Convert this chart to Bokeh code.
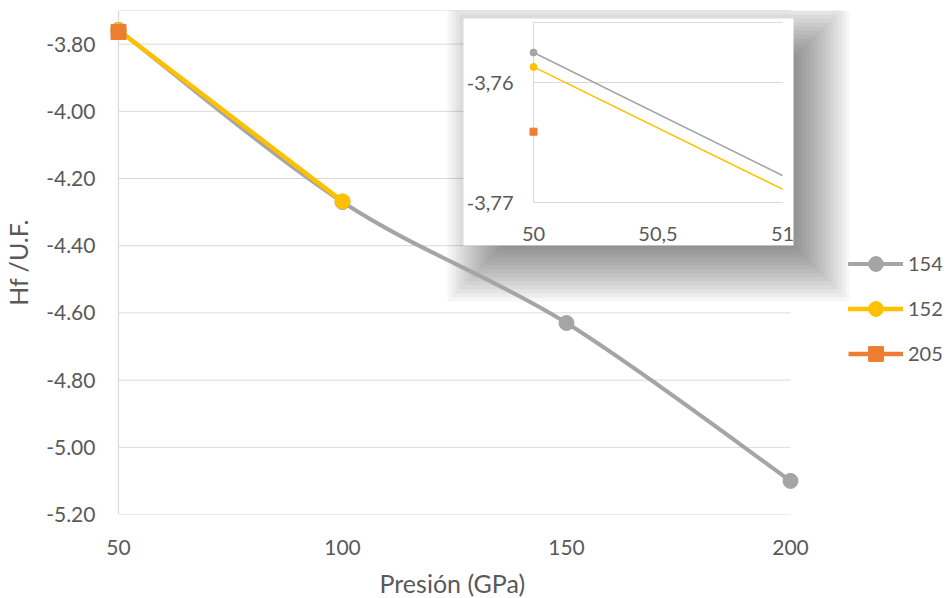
import numpy as np
from bokeh.plotting import figure
from bokeh.models import Range1d, FixedTicker, Legend, LegendItem, Title
from bokeh.embed import file_html
from bokeh.resources import INLINE
from bokeh.core.properties import value

# ---------------- data ----------------
pressure_154 = [50, 100, 150, 200]
hf_154 = [-3.7575, -4.27, -4.63, -5.10]
pressure_152 = [50, 100]
hf_152 = [-3.7587, -4.268]
pressure_205 = [50]
hf_205 = [-3.7641]
series_names = ["154", "152", "205"]

x_ticks = [50, 100, 150, 200]
y_ticks = [-5.2, -5.0, -4.8, -4.6, -4.4, -4.2, -4.0, -3.8]
y_top = -3.7
x_title = "Presión (GPa)"
y_title = "Hf /U.F."

inset_x_ticks = [50, 50.5, 51]
inset_x_labels = ["50", "50,5", "51"]
inset_y_ticks = [-3.77, -3.76]
inset_y_labels = ["-3,77", "-3,76"]
inset_y_top = -3.755

# ---------------- layout constants (pixels) ----------------
W, H = 946, 598
L, R, T, B = 106, 946, 10, 514        # plot frame
X50, X200 = 118, 790                   # pixels of first / last x tick
IX0, IX1 = 533, 782                    # inset: x=50 and x=51
IY_LO, IY_HI = 202, 82                 # inset: y=-3.77 and y=-3.76
BOX = (463, 18, 793, 245)              # inset picture box (l, t, r, b)
SHADOW = (483, 38, 813, 265)
LEGEND_X = 848

GRAY, YELLOW, ORANGE = "#A5A5A5", "#FFC000", "#ED7D31"
GRID = "#D9D9D9"
TXT = "#595959"
FONT = "Lato"

px_per_x = (X200 - X50) / (x_ticks[-1] - x_ticks[0])
x_start = x_ticks[0] - (X50 - L) / px_per_x
x_end = x_ticks[-1] + (R - X200) / px_per_x

p = figure(width=W, height=H, x_range=Range1d(x_start, x_end),
           y_range=Range1d(y_ticks[0], y_top),
           min_border_left=L, min_border_right=W - R,
           min_border_top=T, min_border_bottom=H - B,
           output_backend="svg", toolbar_location=None)
p.outline_line_color = None
p.xgrid.visible = False
p.ygrid.visible = False

# inset and pixel ranges
isx = (IX1 - IX0) / (inset_x_ticks[-1] - inset_x_ticks[0])
isy = (IY_LO - IY_HI) / (inset_y_ticks[1] - inset_y_ticks[0])
ix_start = inset_x_ticks[0] - (IX0 - L) / isx
ix_end = inset_x_ticks[0] + (R - IX0) / isx
iy_start = inset_y_ticks[0] + (IY_LO - B) / isy
iy_end = inset_y_ticks[0] + (IY_LO - T) / isy
p.extra_x_ranges = {"px": Range1d(L, R), "ix": Range1d(ix_start, ix_end)}
p.extra_y_ranges = {"py": Range1d(B, T), "iy": Range1d(iy_start, iy_end)}

# axes
p.xaxis.ticker = FixedTicker(ticks=x_ticks)
p.xaxis.bounds = (x_ticks[0], x_ticks[-1])
p.xaxis.axis_line_color = None
p.xaxis.major_label_standoff = 25
p.yaxis.ticker = FixedTicker(ticks=y_ticks)
p.yaxis.bounds = (y_ticks[0], y_top)
p.yaxis.major_label_overrides = {v: f"{v:.2f}" for v in y_ticks}
p.yaxis.axis_line_color = None
p.yaxis.major_label_standoff = 11
p.yaxis.axis_label = y_title
p.yaxis.axis_label_standoff = 10
for ax in (p.xaxis, p.yaxis):
    ax.major_tick_line_color = None
    ax.minor_tick_line_color = None
    ax.major_tick_out = 0
    ax.major_tick_in = 0
    ax.minor_tick_out = 0
    ax.major_label_text_font = FONT
    ax.major_label_text_font_size = "21px"
    ax.major_label_text_color = TXT
    ax.axis_label_text_font = FONT
    ax.axis_label_text_font_size = "25px"
    ax.axis_label_text_font_style = "normal"
    ax.axis_label_text_color = TXT

# x-axis title, centred under the x ticks (not under the wider frame)
p.add_layout(Title(text=x_title, align="left", offset=273, standoff=0,
                   padding=(0, 0, 8, 0),
                   text_font=FONT, text_font_size="25px", text_font_style="normal",
                   text_color=TXT), "below")

# gridlines (main) and vertical axis line
grid_vals = y_ticks + [y_top]
p.segment(x0=[x_ticks[0]] * len(grid_vals), x1=[x_ticks[-1]] * len(grid_vals),
          y0=grid_vals, y1=grid_vals, line_color=GRID, line_width=1)
p.segment(x0=[x_ticks[0]], x1=[x_ticks[0]], y0=[y_ticks[0]], y1=[y_top],
          line_color=GRID, line_width=1.2)

# inset shadow (stacked translucent boxes) and white box
for e in range(-20, 37, 4):
    p.quad(left=SHADOW[0] - e, right=SHADOW[2] + e, top=SHADOW[1] - e, bottom=SHADOW[3] + e,
           x_range_name="px", y_range_name="py",
           fill_color="black", fill_alpha=0.034, line_color=None)
p.quad(left=BOX[0], right=BOX[2], top=BOX[1], bottom=BOX[3],
       x_range_name="px", y_range_name="py", fill_color="white", line_color=None)

# inset gridlines & axis line
ig = inset_y_ticks + [inset_y_top]
p.segment(x0=[inset_x_ticks[0]] * len(ig), x1=[inset_x_ticks[-1]] * len(ig), y0=ig, y1=ig,
          x_range_name="ix", y_range_name="iy", line_color=GRID, line_width=1)
p.segment(x0=[inset_x_ticks[0]], x1=[inset_x_ticks[0]], y0=[inset_y_ticks[0]], y1=[inset_y_top],
          x_range_name="ix", y_range_name="iy", line_color=GRID, line_width=1)
p.text(x=[inset_x_ticks[0]] * len(inset_y_ticks), y=inset_y_ticks, text=inset_y_labels,
       x_offset=-20, text_align="right", text_baseline="middle",
       x_range_name="ix", y_range_name="iy",
       text_font=value(FONT), text_font_size="20px", text_color=TXT)
p.text(x=inset_x_ticks, y=[inset_y_ticks[0]] * len(inset_x_ticks), text=inset_x_labels,
       y_offset=31, text_align="center", text_baseline="middle",
       x_range_name="ix", y_range_name="iy",
       text_font=value(FONT), text_font_size="20px", text_color=TXT)

# inset series (first segment, clipped at the inset's x max)
def inset_seg(xs, ys):
    slope = (ys[1] - ys[0]) / (xs[1] - xs[0])
    x_end_i = inset_x_ticks[-1]
    return [xs[0], x_end_i], [ys[0], ys[0] + slope * (x_end_i - xs[0])]

for xs, ys, col in ((pressure_154, hf_154, GRAY), (pressure_152, hf_152, YELLOW)):
    sx, sy = inset_seg(xs, ys)
    p.line(sx, sy, x_range_name="ix", y_range_name="iy", line_color=col, line_width=1.6)
    p.scatter([xs[0]], [ys[0]], x_range_name="ix", y_range_name="iy",
              marker="circle", size=7, fill_color=col, line_color=col)
p.scatter(pressure_205, hf_205, x_range_name="ix", y_range_name="iy",
          marker="square", size=7, fill_color=ORANGE, line_color=ORANGE)

# main series 154 (smoothed as in the spreadsheet)
P = np.column_stack([pressure_154, hf_154]).astype(float)
n = len(P)
x0, y0, x1, y1, cx0, cy0, cx1, cy1 = ([] for _ in range(8))
for i in range(n - 1):
    prev = P[max(i - 1, 0)]
    nxt = P[min(i + 2, n - 1)]
    c0 = P[i] + (P[i + 1] - prev) / 6.0
    c1 = P[i + 1] - (nxt - P[i]) / 6.0
    x0.append(P[i][0]); y0.append(P[i][1]); x1.append(P[i + 1][0]); y1.append(P[i + 1][1])
    cx0.append(c0[0]); cy0.append(c0[1]); cx1.append(c1[0]); cy1.append(c1[1])
g_line = p.bezier(x0=x0, y0=y0, x1=x1, y1=y1, cx0=cx0, cy0=cy0, cx1=cx1, cy1=cy1,
                  line_color=GRAY, line_width=4, line_cap="round")
g_pts = p.scatter(pressure_154, hf_154, marker="circle", size=15,
                  fill_color=GRAY, line_color=GRAY)

y_line = p.line(pressure_152, hf_152, line_color=YELLOW, line_width=4.5, line_cap="round")
y_pts = p.scatter(pressure_152, hf_152, marker="circle", size=15,
                  fill_color=YELLOW, line_color=YELLOW)

o_line = p.line(pressure_205, hf_205, line_color=ORANGE, line_width=4.5)
o_pts = p.scatter(pressure_205, hf_205, marker="square", size=15,
                  fill_color=ORANGE, line_color=ORANGE)

legend = Legend(items=[LegendItem(label=series_names[0], renderers=[g_line, g_pts]),
                       LegendItem(label=series_names[1], renderers=[y_line, y_pts]),
                       LegendItem(label=series_names[2], renderers=[o_line, o_pts])],
                location=(LEGEND_X - L, 142.5), glyph_width=55, glyph_height=37,
                label_height=37, spacing=8, padding=0, margin=0, label_standoff=5,
                border_line_color=None, background_fill_alpha=0,
                label_text_font=FONT, label_text_font_size="20px", label_text_color=TXT)
p.add_layout(legend)

open("out.html", "w").write(file_html(p, INLINE))
